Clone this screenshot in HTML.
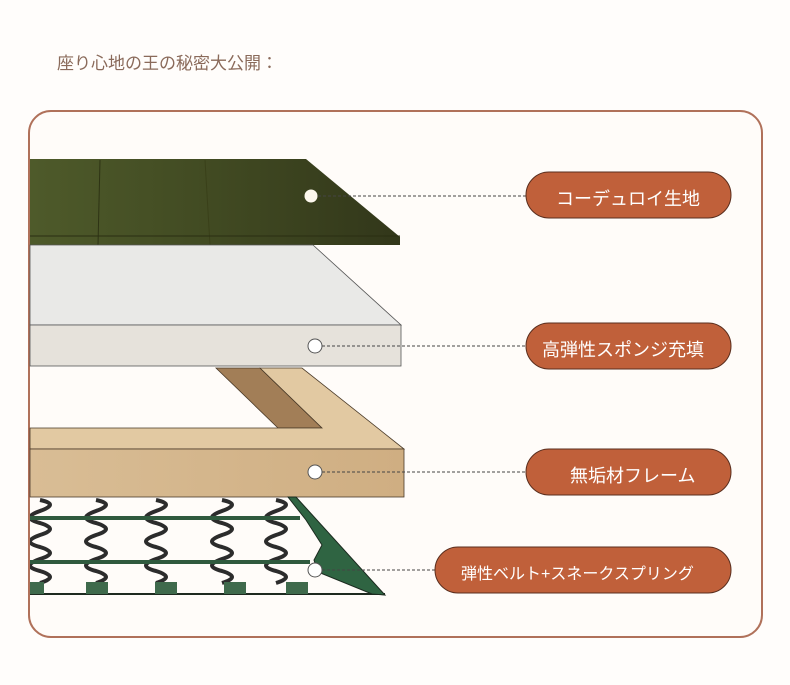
<!DOCTYPE html>
<html><head><meta charset="utf-8"><style>
html,body{margin:0;padding:0;background:#fffdfb;}
svg{display:block;}
text{font-family:"Liberation Sans","Noto Sans CJK JP",sans-serif;}
</style></head><body>
<svg width="790" height="685" viewBox="0 0 790 685" xmlns="http://www.w3.org/2000/svg">
<rect width="790" height="685" fill="#fffdfb"/>
<text x="57" y="69" font-size="17" fill="#8a6a5a">座り心地の王の秘密大公開：</text>
<rect x="29" y="111" width="733" height="526" rx="22" fill="#fffcf9" stroke="#b0715a" stroke-width="2"/>
<defs>
<linearGradient id="fab" x1="0" x2="1"><stop offset="0" stop-color="#4e5a2a"/><stop offset="0.5" stop-color="#414a22"/><stop offset="1" stop-color="#32371a"/></linearGradient>
<linearGradient id="wood" x1="0" x2="1"><stop offset="0" stop-color="#d9bd95"/><stop offset="1" stop-color="#cfae82"/></linearGradient>
<clipPath id="sc"><rect x="30" y="497" width="360" height="100"/></clipPath>
</defs>
<polygon points="30,159 306,159 400,237 400,245 30,245" fill="url(#fab)"/>
<line x1="100" y1="160" x2="98" y2="245" stroke="#2e3314" stroke-width="1"/>
<line x1="205" y1="160" x2="210" y2="245" stroke="#3a4019" stroke-width="1"/>
<line x1="30" y1="236" x2="400" y2="236" stroke="#2a2e12" stroke-width="1"/>
<polygon points="30,245 313,245 401,325 30,325" fill="#e9e9e7" stroke="#555" stroke-width="0.8"/>
<rect x="30" y="325" width="371" height="41" fill="#e6e2db" stroke="#555" stroke-width="0.8"/>
<polygon points="216,368 260,368 322,428 278,428" fill="#a27e57" stroke="#4a3a28" stroke-width="0.8"/>
<polygon points="260,368 302,368 404,449 30,449 30,428 322,428" fill="#e2c9a2" stroke="#4a3a28" stroke-width="0.8"/>
<rect x="30" y="449" width="374" height="48" fill="url(#wood)" stroke="#4a3a28" stroke-width="0.8"/>
<g clip-path="url(#sc)">
<g fill="none" stroke="#2c2c2c" stroke-width="4">
<path d="M40,500 q20,4 0,11 q-20,7 0,12 q20,6 0,12 q-20,7 0,12 q20,6 0,12 q-20,7 0,12 q20,6 0,12"/>
<path d="M96,500 q20,4 0,11 q-20,7 0,12 q20,6 0,12 q-20,7 0,12 q20,6 0,12 q-20,7 0,12 q20,6 0,12"/>
<path d="M156,500 q20,4 0,11 q-20,7 0,12 q20,6 0,12 q-20,7 0,12 q20,6 0,12 q-20,7 0,12 q20,6 0,12"/>
<path d="M222,500 q20,4 0,11 q-20,7 0,12 q20,6 0,12 q-20,7 0,12 q20,6 0,12 q-20,7 0,12 q20,6 0,12"/>
<path d="M276,500 q20,4 0,11 q-20,7 0,12 q20,6 0,12 q-20,7 0,12 q20,6 0,12 q-20,7 0,12 q20,6 0,12"/>
</g>
<g stroke="#2f5a3e" stroke-width="4">
<line x1="30" y1="518" x2="300" y2="518"/>
<line x1="30" y1="562" x2="310" y2="562"/>
</g>
</g>
<line x1="30" y1="594" x2="385" y2="594" stroke="#1e2a20" stroke-width="2"/>
<g fill="#3f6a4c">
<rect x="30" y="582" width="14" height="12"/><rect x="86" y="582" width="22" height="12"/><rect x="155" y="582" width="22" height="12"/><rect x="224" y="582" width="22" height="12"/><rect x="286" y="582" width="22" height="12"/>
</g>
<polygon points="288,497 296,497 385,595 372,594 318,572 314,560 322,545 306,520" fill="#2f6442" stroke="#1b2a1f" stroke-width="1"/>
<g stroke="#444" stroke-width="1" stroke-dasharray="3,2">
<line x1="318" y1="196" x2="526" y2="196"/>
<line x1="322" y1="346" x2="526" y2="346"/>
<line x1="322" y1="472" x2="526" y2="472"/>
<line x1="322" y1="570" x2="435" y2="570"/>
</g>
<circle cx="311" cy="196" r="6.5" fill="#fdf8ee"/>
<g fill="#fff" stroke="#555" stroke-width="1">
<circle cx="315" cy="346" r="7"/>
<circle cx="315" cy="472" r="7"/>
<circle cx="315" cy="570" r="7"/>
</g>
<g fill="#c0603a" stroke="#5a2e1e" stroke-width="1">
<rect x="526" y="172" width="205" height="46" rx="23"/>
<rect x="526" y="323" width="205" height="46" rx="23"/>
<rect x="526" y="449" width="205" height="46" rx="23"/>
<rect x="435" y="547" width="296" height="46" rx="23"/>
</g>
<g fill="#fff" font-size="18">
<text x="556" y="205">コーデュロイ生地</text>
<text x="542" y="356">高弾性スポンジ充填</text>
<text x="570" y="482">無垢材フレーム</text>
<text x="461" y="579" font-size="16">弾性ベルト+スネークスプリング</text>
</g>
</svg>
</body></html>
